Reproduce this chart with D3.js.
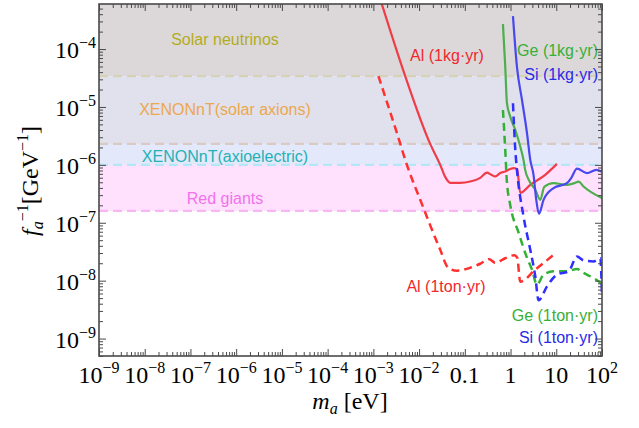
<!DOCTYPE html>
<html lang="en">
<head>
    <meta charset="UTF-8">
    <title>Axion limits</title>
    <style>
        body { margin: 0; background: #fff; }
        svg { display: block; }
        .serif { font-family: "Liberation Serif", "Times New Roman", serif; }
        .sans { font-family: "Liberation Sans", Arial, sans-serif; }
    </style>
</head>
<body>
    <div id="graphic"></div>

    <script src="https://cdn.jsdelivr.net/npm/d3@7"></script>
    <script>
        var width = 639;
        var height = 428;

        // axis ticks
        var xTicks = [1e-9, 1e-8, 1e-7, 1e-6, 1e-5, 1e-4, 1e-3, 1e-2, 0.1, 1, 10, 100];
        var xTickLabels = [["10", "−9"], ["10", "−8"], ["10", "−7"], ["10", "−6"], ["10", "−5"], ["10", "−4"],
                           ["10", "−3"], ["10", "−2"], ["0.1", ""], ["1", ""], ["10", ""], ["10", "2"]];
        var yTicks = [1e-9, 1e-8, 1e-7, 1e-6, 1e-5, 1e-4];
        var yTickLabels = [["10", "−9"], ["10", "−8"], ["10", "−7"], ["10", "−6"], ["10", "−5"], ["10", "−4"]];

        // excluded regions (lower edge of each band, GeV^-1)
        var bandNames = ["Solar neutrinos", "XENONnT(solar axions)", "XENONnT(axioelectric)", "Red giants"];
        var bandLower = [3.4e-5, 2.3e-6, 1.0e-6, 1.6e-7];

        // sensitivity curves: [m_a (eV), 1/f_a (GeV^-1)]
        var alKg = [[1.37e-3, 7.9e-4], [4.97e-3, 3.42e-5], [1.75e-2, 2.30e-6], [2.90e-2, 1.0e-6], [3.72e-2, 6.2e-7],
                    [4.80e-2, 4.9e-7], [7.94e-2, 4.9e-7], [0.131, 5.15e-7], [0.217, 5.97e-7], [0.305, 7.36e-7],
                    [0.378, 6.76e-7], [0.462, 6.31e-7], [0.596, 7.24e-7], [0.766, 7.66e-7], [0.984, 8.51e-7],
                    [1.205, 8.77e-7], [1.40, 8.2e-7], [1.63, 3.29e-7], [2.70, 4.52e-7], [5.74, 6.73e-7], [10.35, 1.04e-6]];
        var alTon = [[1.29e-3, 3.42e-5], [3.27e-3, 3.56e-6], [5.41e-3, 1.0e-6], [1.06e-2, 2.49e-7], [2.90e-2, 3.42e-8],
                     [4.34e-2, 1.67e-8], [6.71e-2, 1.49e-8], [0.131, 1.67e-8], [0.217, 1.96e-8], [0.342, 2.35e-8],
                     [0.462, 2.04e-8], [0.766, 2.44e-8], [1.205, 2.75e-8], [1.40, 2.49e-8], [1.63, 9.6e-9],
                     [3.47, 1.55e-8], [10.0, 3.04e-8]];
        var geKg = [[0.682, 2.70e-4], [0.766, 4.95e-5], [0.834, 1.17e-5], [0.984, 6.8e-6], [1.27, 4.0e-6],
                    [1.63, 2.07e-6], [1.92, 1.22e-6], [2.09, 8.2e-7], [2.61, 5.15e-7], [3.47, 3.71e-7], [4.47, 2.49e-7],
                    [5.46, 4.18e-7], [8.73, 4.83e-7], [17.1, 4.52e-7], [26.1, 4.9e-7], [30.8, 5.15e-7], [39.5, 4.23e-7],
                    [100, 2.67e-7]];
        var geTon = [[0.682, 8.87e-6], [0.766, 1.82e-6], [0.826, 5.51e-7], [0.984, 2.04e-7], [1.50, 6.73e-8],
                     [2.29, 2.49e-8], [2.94, 1.55e-8], [3.78, 8.53e-9], [5.27, 1.27e-8], [8.73, 1.45e-8], [17.1, 1.45e-8],
                     [28.4, 1.59e-8], [39.5, 1.36e-8], [65.5, 1.11e-8], [100, 8.87e-9]];
        var siKg = [[1.13, 3.71e-4], [1.38, 4.95e-5], [1.78, 1.32e-5], [2.29, 3.52e-6], [2.70, 1.22e-6],
                    [3.18, 6.73e-7], [3.65, 2.49e-7], [4.18, 1.43e-7], [5.27, 2.49e-7], [8.73, 3.96e-7], [17.1, 4.83e-7],
                    [21.3, 5.97e-7], [28.4, 8.59e-7], [47.0, 7.19e-7], [75.0, 8.2e-7], [100, 7.59e-7]];
        var siTon = [[1.13, 1.16e-5], [1.27, 1.82e-6], [1.38, 8.2e-7], [1.92, 1.29e-7], [2.70, 3.42e-8],
                     [3.47, 1.19e-8], [4.10, 4.57e-9], [6.27, 7.98e-9], [10.35, 1.27e-8], [18.6, 1.45e-8], [28.4, 2.62e-8],
                     [39.5, 2.24e-8], [65.5, 2.15e-8], [91.8, 2.44e-8], [100, 5.3e-9]];

        var x = d3.scaleLog().domain([1e-9, 1e2]).range([99, 602]);
        var y = d3.scaleLog().domain([5e-10, 6e-4]).range([356, 4]);

        var svg = d3.select('#graphic')
            .append('svg')
            .attr('width', width)
            .attr('height', height);

        svg.append('defs').append('clipPath').attr('id', 'plot')
            .append('rect')
            .attr('x', x.range()[0]).attr('y', y.range()[1])
            .attr('width', x.range()[1] - x.range()[0])
            .attr('height', y.range()[0] - y.range()[1]);

        // bands
        var bandFill = ['#dcd8d9', '#e1e0ed', '#e4e8fb', '#ffe1fd'];
        var bandEdge = ['#d6d2b6', '#d9cbc2', '#b3e6f7', '#f8b6f2'];
        var bandText = ['#b3ac1f', '#eca84c', '#22b2b5', '#f272ee'];
        var bandTextY = [45, 115, 162, 204];

        var bands = svg.append('g');
        bandLower.forEach(function(lo, i) {
            var hi = i == 0 ? y.domain()[1] : bandLower[i - 1];
            bands.append('rect')
                .attr('x', x.range()[0]).attr('width', x.range()[1] - x.range()[0])
                .attr('y', y(hi)).attr('height', y(lo) - y(hi))
                .attr('fill', bandFill[i]);
        });
        bandLower.forEach(function(lo, i) {
            bands.append('line')
                .attr('x1', x.range()[0]).attr('x2', x.range()[1])
                .attr('y1', y(lo)).attr('y2', y(lo))
                .attr('stroke', bandEdge[i]).attr('stroke-width', 2.2)
                .attr('stroke-dasharray', '9,5');
            bands.append('text')
                .attr('class', 'sans')
                .attr('x', 225).attr('y', bandTextY[i])
                .attr('text-anchor', 'middle')
                .attr('font-size', 16)
                .attr('fill', bandText[i])
                .text(bandNames[i]);
        });

        // curves
        var line = d3.line()
            .x(function(d) { return x(d[0]); })
            .y(function(d) { return y(d[1]); })
            .curve(d3.curveMonotoneX);

        var curves = [
            {data: alKg, color: '#ef3d48', dash: null},
            {data: geKg, color: '#4caf4c', dash: null},
            {data: siKg, color: '#4848ef', dash: null},
            {data: alTon, color: '#ff3030', dash: '8,5'},
            {data: geTon, color: '#34b034', dash: '8,5'},
            {data: siTon, color: '#2f2fff', dash: '8,5'}
        ];
        svg.append('g').attr('clip-path', 'url(#plot)')
            .selectAll('path')
            .data(curves)
            .join('path')
            .attr('d', function(d) { return line(d.data); })
            .attr('fill', 'none')
            .attr('stroke', function(d) { return d.color; })
            .attr('stroke-width', function(d) { return d.dash ? 2.5 : 2.2; })
            .attr('stroke-dasharray', function(d) { return d.dash; });

        // curve labels
        var labels = [
            {t: 'Al (1kg·yr)', x: 447, y: 61, a: 'middle', c: '#f0282d'},
            {t: 'Ge (1kg·yr)', x: 598, y: 56, a: 'end', c: '#36b036'},
            {t: 'Si (1kg·yr)', x: 598, y: 80, a: 'end', c: '#2a2ae8'},
            {t: 'Al (1ton·yr)', x: 446, y: 292, a: 'middle', c: '#f0282d'},
            {t: 'Ge (1ton·yr)', x: 598, y: 321, a: 'end', c: '#36b036'},
            {t: 'Si (1ton·yr)', x: 598, y: 343, a: 'end', c: '#2a2ae8'}
        ];
        svg.append('g').selectAll('text')
            .data(labels)
            .join('text')
            .attr('class', 'sans')
            .attr('x', function(d) { return d.x; })
            .attr('y', function(d) { return d.y; })
            .attr('text-anchor', function(d) { return d.a; })
            .attr('font-size', 16)
            .attr('fill', function(d) { return d.c; })
            .text(function(d) { return d.t; });

        // frame and ticks
        function minors(domainLo, domainHi) {
            var out = [];
            for (var e = Math.floor(Math.log10(domainLo)); e <= Math.ceil(Math.log10(domainHi)); e++) {
                for (var k = 2; k <= 9; k++) {
                    var v = k * Math.pow(10, e);
                    if (v >= domainLo && v <= domainHi) out.push(v);
                }
            }
            return out;
        }
        var xMinor = minors(1e-9, 1e2);
        var yMinor = minors(5e-10, 6e-4);
        var axisColor = '#4a4a4a';

        function drawAxis(axis, transform) {
            var g = svg.append('g').attr('transform', transform).call(axis);
            g.select('.domain').remove();
            g.selectAll('line').attr('stroke', axisColor).attr('stroke-width', 1);
            g.selectAll('text').remove();
        }
        var x0 = x.range()[0], x1 = x.range()[1], y0 = y.range()[0], y1 = y.range()[1];
        drawAxis(d3.axisBottom(x).tickValues(xTicks).tickSize(-7), 'translate(0,' + y0 + ')');
        drawAxis(d3.axisBottom(x).tickValues(xMinor).tickSize(-4), 'translate(0,' + y0 + ')');
        drawAxis(d3.axisTop(x).tickValues(xTicks).tickSize(-7), 'translate(0,' + y1 + ')');
        drawAxis(d3.axisTop(x).tickValues(xMinor).tickSize(-4), 'translate(0,' + y1 + ')');
        drawAxis(d3.axisLeft(y).tickValues(yTicks).tickSize(-7), 'translate(' + x0 + ',0)');
        drawAxis(d3.axisLeft(y).tickValues(yMinor).tickSize(-4), 'translate(' + x0 + ',0)');
        drawAxis(d3.axisRight(y).tickValues(yTicks).tickSize(-7), 'translate(' + x1 + ',0)');
        drawAxis(d3.axisRight(y).tickValues(yMinor).tickSize(-4), 'translate(' + x1 + ',0)');

        svg.append('rect')
            .attr('x', x0).attr('y', y1)
            .attr('width', x1 - x0).attr('height', y0 - y1)
            .attr('fill', 'none')
            .attr('stroke', axisColor)
            .attr('stroke-width', 1.6);

        // tick labels
        function addPow(sel, d) {
            sel.append('tspan').text(d[0]);
            if (d[1]) sel.append('tspan').attr('font-size', 16).attr('dy', -10).text(d[1]);
        }
        svg.append('g').attr('class', 'serif').selectAll('text')
            .data(xTicks)
            .join('text')
            .attr('x', function(d) { return x(d); })
            .attr('y', 383)
            .attr('text-anchor', 'middle')
            .attr('font-size', 24)
            .each(function(d, i) { addPow(d3.select(this), xTickLabels[i]); });

        svg.append('g').attr('class', 'serif').selectAll('text')
            .data(yTicks)
            .join('text')
            .attr('x', 96)
            .attr('y', function(d) { return y(d) + 9; })
            .attr('text-anchor', 'end')
            .attr('font-size', 24)
            .each(function(d, i) { addPow(d3.select(this), yTickLabels[i]); });

        // axis titles
        var xt = svg.append('text').attr('class', 'serif')
            .attr('x', 350).attr('y', 409)
            .attr('text-anchor', 'middle').attr('font-size', 24);
        xt.append('tspan').attr('font-style', 'italic').text('m');
        xt.append('tspan').attr('font-style', 'italic').attr('font-size', 16).attr('dy', 5).text('a');
        xt.append('tspan').attr('dy', -5).text(' [eV]');

        var yt = svg.append('text').attr('class', 'serif')
            .attr('transform', 'translate(38,181) rotate(-90)')
            .attr('text-anchor', 'middle').attr('font-size', 24);
        yt.append('tspan').attr('font-style', 'italic').text('f');
        yt.append('tspan').attr('font-style', 'italic').attr('font-size', 16).attr('dy', 5).text('a');
        yt.append('tspan').attr('font-size', 16).attr('dy', -15).text('−1');
        yt.append('tspan').attr('dy', 10).text('[GeV');
        yt.append('tspan').attr('font-size', 16).attr('dy', -10).text('−1');
        yt.append('tspan').attr('dy', 10).text(']');
    </script>
</body>
</html>
